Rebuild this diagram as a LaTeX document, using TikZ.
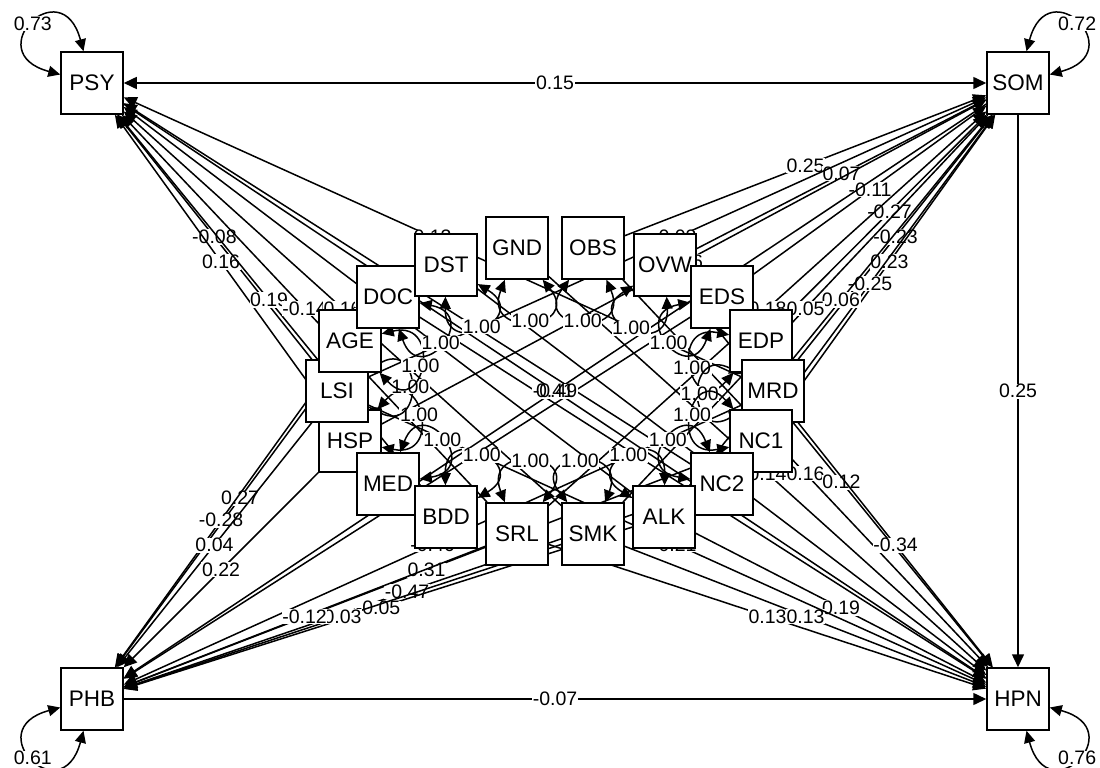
\documentclass[tikz,border=0pt]{standalone}
\usepackage{fontspec}
\setmainfont{Liberation Sans}
\usetikzlibrary{arrows.meta,calc}
\pgfdeclarelayer{bg}
\pgfsetlayers{bg,main}
\begin{document}
\begin{tikzpicture}[x=1pt,y=-1pt,
  box/.style={draw,fill=white,line width=1.5pt,minimum size=62pt,inner sep=0pt,font=\fontsize{22.5}{22.5}\selectfont},
  lbl/.style={fill=white,inner sep=0.6pt,font=\fontsize{19.5}{19.5}\selectfont},
  edge/.style={line width=1.5pt,-{Triangle[length=13pt,width=12pt]}},
  biedge/.style={line width=1.5pt,{Triangle[length=13pt,width=12pt]}-{Triangle[length=13pt,width=12pt]}},
  vloop/.style={line width=1.5pt,{Triangle[length=12pt,width=11pt]}-{Triangle[length=12pt,width=11pt]}}]
\useasboundingbox (0,0) rectangle (1100,768);
% corner nodes
\node[box] (PSY) at (92,83) {PSY};
\node[box] (SOM) at (1018,83) {SOM};
\node[box] (PHB) at (92,699) {PHB};
\node[box] (HPN) at (1018,699) {HPN};
% ring nodes (drawing order sets overlaps)
\node[box] (HSP) at (350,441) {HSP};
\node[box] (LSI) at (337,391) {LSI};
\node[box] (AGE) at (350,341) {AGE};
\node[box] (DOC) at (388,297) {DOC};
\node[box] (DST) at (446,265) {DST};
\node[box] (MED) at (388,484) {MED};
\node[box] (BDD) at (446,517) {BDD};
\node[box] (SRL) at (517,534) {SRL};
\node[box] (GND) at (517,248) {GND};
\node[box] (OBS) at (593,248) {OBS};
\node[box] (SMK) at (593,534) {SMK};
\node[box] (OVW) at (665,265) {OVW};
\node[box] (EDS) at (722,297) {EDS};
\node[box] (EDP) at (761,341) {EDP};
\node[box] (MRD) at (773,391) {MRD};
\node[box] (NC1) at (761,441) {NC1};
\node[box] (NC2) at (722,484) {NC2};
\node[box] (ALK) at (664,517) {ALK};
\begin{pgfonlayer}{bg}
% regressions onto PSY
\foreach \a/\v in {LSI/-0.08,HSP/0.16,BDD/0.19,SRL/-0.14,SMK/0.16,MRD/0.13,NC2/0.09,ALK/-0.10}
  \draw[edge] (\a) -- node[lbl]{\v} (PSY);
% regressions onto SOM
\foreach \a/\v in {OBS/0.25,OVW/0.07,EDS/-0.11,EDP/-0.27,MRD/-0.23,NC1/0.23,NC2/-0.25,ALK/0.06,SMK/0.05,SRL/0.18,LSI/0.03,HSP/0.06}
  \draw[edge] (\a) -- node[lbl]{\v} (SOM);
% regressions onto HPN
\foreach \a/\v in {GND/0.14,OBS/0.16,OVW/0.12,MRD/-0.34,ALK/0.19,SRL/0.13,SMK/0.13,LSI/0.21,DOC/0.10,DST/0.09}
  \draw[edge] (\a) -- node[lbl]{\v} (HPN);
% regressions onto PHB
\foreach \a/\v in {DOC/0.27,AGE/-0.28,LSI/0.04,HSP/0.22,EDS/0.11,MRD/-0.46,NC1/0.31,NC2/-0.47,ALK/-0.05,SMK/0.03,SRL/-0.12}
  \draw[edge] (\a) -- node[lbl]{\v} (PHB);
% paths among outcomes
\draw[biedge] (PSY) -- node[lbl]{0.15} (SOM);
\draw[edge] (SOM) -- node[lbl]{0.25} (HPN);
\draw[edge] (PHB) -- node[lbl]{-0.07} (HPN);
\draw[edge] (PSY) -- (HPN);
\draw[edge] (SOM) -- (PHB);
\path (PSY) -- node[lbl]{-0.49} (HPN);
\path (SOM) -- node[lbl,fill=none]{0.41} (PHB);
% variances of predictors
\foreach \n/\t in {GND/-81,OBS/-97,OVW/-117,EDS/-140,EDP/-161,MRD/-178,NC1/161,NC2/141,ALK/119,SMK/99,SRL/81,BDD/61,MED/39,HSP/19,LSI/3,AGE/-17,DOC/-41,DST/-61}{
  \pgfmathsetmacro\ta{\t-30}
  \pgfmathsetmacro\tb{\t+30}
  \draw[vloop] (\n) to[out=\ta,in=\tb,min distance=64pt] node[lbl]{1.00} (\n);
}
% residual variances of outcomes
\draw[vloop] (PSY) to[out=105,in=165,min distance=85pt] node[lbl]{0.73} (PSY);
\draw[vloop] (SOM) to[out=75,in=15,min distance=85pt] node[lbl]{0.72} (SOM);
\draw[vloop] (PHB) to[out=-105,in=-165,min distance=85pt] node[lbl]{0.61} (PHB);
\draw[vloop] (HPN) to[out=-75,in=-15,min distance=85pt] node[lbl]{0.76} (HPN);
\end{pgfonlayer}
\end{tikzpicture}
\end{document}
